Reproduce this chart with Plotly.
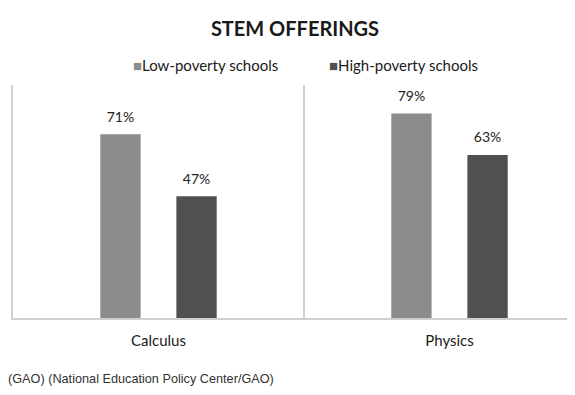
import plotly.graph_objects as go

categories = ["Calculus", "Physics"]
low_poverty = [71, 79]
high_poverty = [47, 63]
series_names = ["Low-poverty schools", "High-poverty schools"]
series_colors = ["#8c8c8c", "#505050"]
title_text = "STEM OFFERINGS"
source_text = "(GAO) (National Education Policy Center/GAO)"

# The page body has a default 8px margin; work in screen pixels and subtract it.
OFF = 8
W, H = 575 - OFF, 395 - OFF
PLOT_L, PLOT_R, PLOT_T, PLOT_B = 13, 575, 85, 318  # screen pixels
ML, MR = PLOT_L - OFF, 0
MT, MB = PLOT_T - OFF, H - (PLOT_B - OFF)
PW, PH = W - ML - MR, H - MT - MB


def px_x(p):
    return (p - OFF - ML) / PW


def px_y(p):
    return (H - MB - (p - OFF)) / PH


fig = go.Figure()
groups = ["low", "high"]
for name, vals, col, g in zip(series_names, [low_poverty, high_poverty], series_colors, groups):
    fig.add_trace(go.Bar(
        x=categories, y=vals, name=name, offsetgroup=g,
        marker=dict(color=col, line=dict(width=0)),
        cliponaxis=False, showlegend=False, hoverinfo="skip",
    ))
for name, vals, g in zip(series_names, [low_poverty, high_poverty], groups):
    fig.add_trace(go.Scatter(
        x=categories, y=vals, name=name, offsetgroup=g, mode="markers+text",
        text=["%d%%" % v for v in vals], textposition="top center",
        marker=dict(size=13, color="rgba(0,0,0,0)"),
        textfont=dict(family="Lato", size=14, color="#222222"),
        cliponaxis=False, showlegend=False,
    ))

fig.update_layout(
    width=W, height=H,
    margin=dict(l=ML, r=MR, t=MT, b=MB, autoexpand=False),
    paper_bgcolor="white", plot_bgcolor="white",
    barmode="group", bargap=0.477, bargroupgap=0.47,
    scattermode="group", scattergap=0.477,
    title=dict(text="<b>" + title_text + "</b>", x=(295 - OFF) / W, xanchor="center",
               y=1 - (29 - OFF) / H, yanchor="middle",
               font=dict(family="Lato", size=20, color="#1a1a1a")),
    showlegend=False,
    font=dict(family="Lato", color="#1a1a1a"),
)
fig.update_xaxes(
    range=[-0.5, -0.5 + PW / 291.0],
    showline=True, linecolor="#d0d0d0", linewidth=2,
    showgrid=False, ticks="", ticklabelstandoff=8,
    tickfont=dict(family="Lato", size=15, color="#1a1a1a"),
    fixedrange=True,
)
fig.update_yaxes(
    range=[0, 90], showline=True, linecolor="#d0d0d0", linewidth=2,
    showgrid=False, showticklabels=False, ticks="", zeroline=False,
    fixedrange=True,
)
fig.add_shape(type="line", xref="x", yref="paper", x0=0.5, x1=0.5, y0=0, y1=1,
              line=dict(color="#d0d0d0", width=2))

# manual legend (tight marker/text spacing like the reference)
legend_x_px = [131, 327]
for name, col, lx in zip(series_names, series_colors, legend_x_px):
    fig.add_annotation(
        text="<span style='color:%s;font-size:15px'>■</span>%s" % (col, name),
        xref="paper", yref="paper", x=px_x(lx), y=px_y(65),
        xanchor="left", yanchor="middle", showarrow=False,
        font=dict(family="Lato", size=15, color="#1a1a1a"),
    )

fig.add_annotation(text=source_text, xref="paper", yref="paper",
                   x=px_x(6), y=px_y(379),
                   xanchor="left", yanchor="middle", showarrow=False,
                   font=dict(family="Liberation Sans", size=12.7, color="#333333"))

fig.write_html("out.html")
